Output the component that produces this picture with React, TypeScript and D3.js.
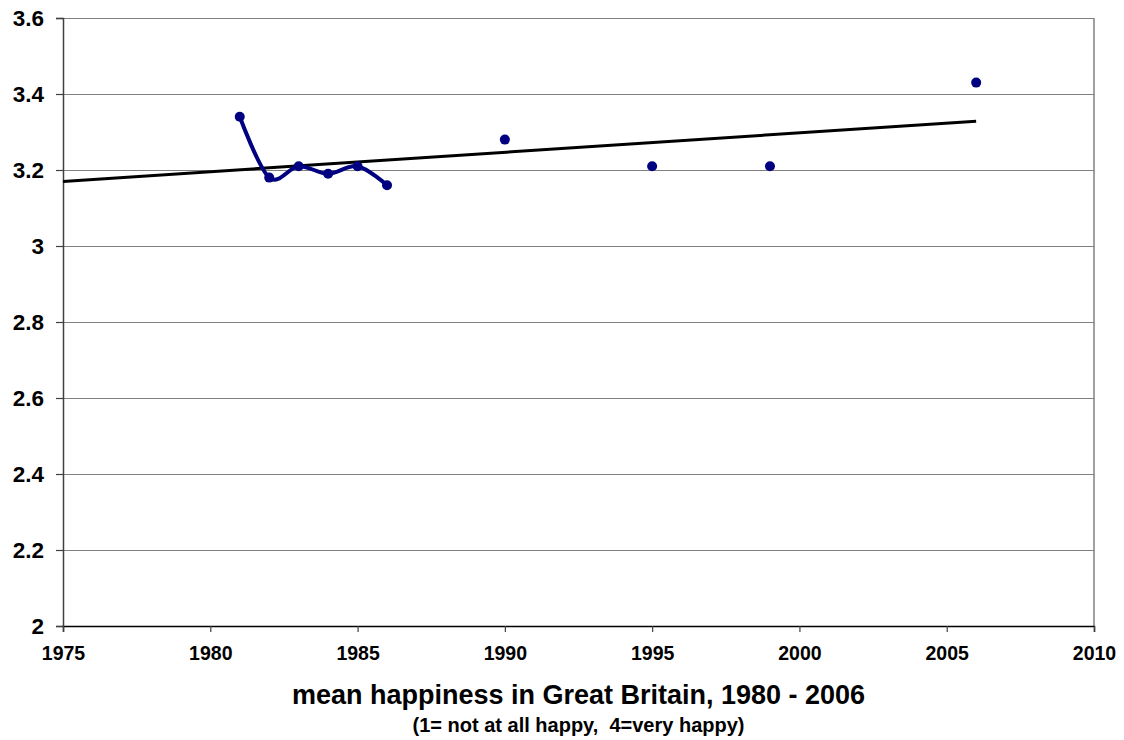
import { useRef, useEffect } from 'react'
import * as d3 from 'd3'

const WIDTH = 1124
const HEIGHT = 740
const PLOT = { left: 63, right: 1094, top: 18, bottom: 626 }

// survey years joined by a smoothed line
const LINE_YEARS = [1981, 1982, 1983, 1984, 1985, 1986]
const LINE_VALUES = [3.34, 3.18, 3.21, 3.19, 3.21, 3.16]
// later surveys, markers only
const DOT_YEARS = [1990, 1995, 1999, 2006]
const DOT_VALUES = [3.28, 3.21, 3.21, 3.43]

const X_TICKS = [1975, 1980, 1985, 1990, 1995, 2000, 2005, 2010]
const Y_TICKS = [2, 2.2, 2.4, 2.6, 2.8, 3, 3.2, 3.4, 3.6]

const NAVY = '#000080'
const FONT = '"Liberation Sans", Arial, sans-serif'

export default function App() {
  const svgRef = useRef<SVGSVGElement>(null)

  useEffect(() => {
    if (!svgRef.current) return
    const svg = d3.select(svgRef.current)
    svg.selectAll('*').remove()

    const x = d3.scaleLinear().domain([1975, 2010]).range([PLOT.left, PLOT.right])
    const y = d3.scaleLinear().domain([2, 3.6]).range([PLOT.bottom, PLOT.top])
    const innerW = PLOT.right - PLOT.left

    // Horizontal gridlines
    svg.append('g')
      .attr('transform', `translate(${PLOT.left},0)`)
      .call(d3.axisLeft(y).tickValues(Y_TICKS).tickSize(-innerW).tickFormat(() => ''))
      .call((g) => {
        g.select('.domain').remove()
        g.selectAll('line').attr('stroke', '#808080').attr('stroke-width', 1.2)
      })

    // Right border
    svg.append('line')
      .attr('x1', PLOT.right).attr('x2', PLOT.right)
      .attr('y1', PLOT.top).attr('y2', PLOT.bottom)
      .attr('stroke', '#808080').attr('stroke-width', 1.5)

    // Y axis
    svg.append('g')
      .attr('transform', `translate(${PLOT.left},0)`)
      .call(d3.axisLeft(y).tickValues(Y_TICKS).tickSize(7).tickPadding(12).tickFormat((d) => `${d}`))
      .call((g) => {
        g.select('.domain').attr('stroke', '#404040').attr('stroke-width', 1.5)
        g.selectAll('.tick line').attr('stroke', '#404040').attr('stroke-width', 1.2)
        g.selectAll('text')
          .attr('fill', '#000').attr('font-size', '22.5px').attr('font-weight', 'bold')
          .attr('font-family', FONT)
      })

    // X axis
    svg.append('g')
      .attr('transform', `translate(0,${PLOT.bottom})`)
      .call(d3.axisBottom(x).tickValues(X_TICKS).tickSize(6).tickPadding(14).tickFormat((d) => `${d}`))
      .call((g) => {
        g.select('.domain').attr('stroke', '#000').attr('stroke-width', 1.5)
        g.selectAll('.tick line').attr('stroke', '#404040').attr('stroke-width', 1.2)
        g.selectAll('text')
          .attr('fill', '#000').attr('font-size', '19.5px').attr('font-weight', 'bold')
          .attr('font-family', FONT)
      })

    // Linear trend over all surveys, projected back to 1975
    const allX = [...LINE_YEARS, ...DOT_YEARS]
    const allY = [...LINE_VALUES, ...DOT_VALUES]
    const mx = d3.mean(allX) ?? 0
    const my = d3.mean(allY) ?? 0
    const slope = d3.sum(allX, (v, i) => (v - mx) * (allY[i] - my)) / d3.sum(allX, (v) => (v - mx) ** 2)
    const trend = (t: number) => my + slope * (t - mx)
    const trendYears = [1975, d3.max(allX) ?? 2006]
    svg.append('path')
      .attr('d', d3.line<number>().x((t) => x(t)).y((t) => y(trend(t)))(trendYears))
      .attr('fill', 'none').attr('stroke', '#000').attr('stroke-width', 3)

    // Smoothed series line
    const linePts = LINE_YEARS.map((t, i) => [t, LINE_VALUES[i]] as [number, number])
    svg.append('path')
      .attr('d', d3.line<[number, number]>()
        .x((d) => x(d[0])).y((d) => y(d[1]))
        .curve(d3.curveCatmullRom.alpha(0))(linePts))
      .attr('fill', 'none').attr('stroke', NAVY).attr('stroke-width', 4)
      .attr('stroke-linejoin', 'round').attr('stroke-linecap', 'round')

    // Markers
    const dots = [...linePts, ...DOT_YEARS.map((t, i) => [t, DOT_VALUES[i]] as [number, number])]
    svg.append('g').selectAll('circle')
      .data(dots)
      .join('circle')
      .attr('cx', (d) => x(d[0])).attr('cy', (d) => y(d[1]))
      .attr('r', 5).attr('fill', NAVY)

    // Titles
    const cx = (PLOT.left + PLOT.right) / 2
    svg.append('text')
      .attr('x', cx).attr('y', 704).attr('text-anchor', 'middle')
      .attr('font-family', FONT).attr('font-weight', 'bold').attr('font-size', '27px')
      .text('mean happiness in Great Britain, 1980 - 2006')
    svg.append('text')
      .attr('x', cx).attr('y', 732).attr('text-anchor', 'middle')
      .attr('font-family', FONT).attr('font-weight', 'bold').attr('font-size', '20px')
      .style('white-space', 'pre')
      .text('(1= not at all happy,  4=very happy)')
  }, [])

  return (
    <svg
      ref={svgRef}
      width={WIDTH}
      height={HEIGHT}
      style={{ position: 'absolute', left: 0, top: 0, background: '#fff' }}
    />
  )
}
